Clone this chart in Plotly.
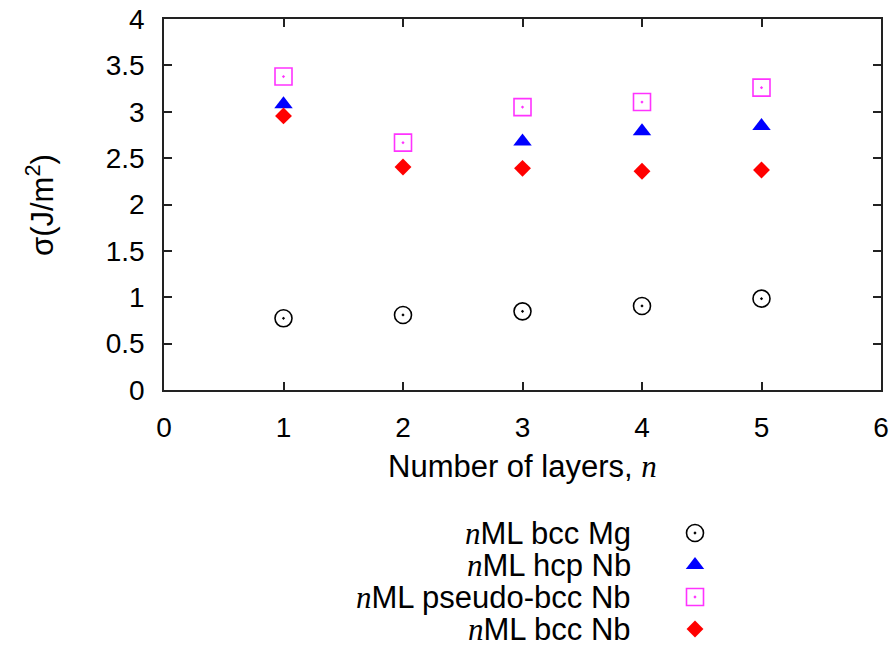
import plotly.graph_objects as go

# ---- data ----
layers = [1, 2, 3, 4, 5]
bcc_mg = [0.773, 0.809, 0.848, 0.906, 0.985]
hcp_nb = [3.08, None, 2.68, 2.79, 2.846]
pseudo_bcc_nb = [3.38, 2.667, 3.05, 3.105, 3.26]
bcc_nb = [2.955, 2.405, 2.39, 2.358, 2.372]

x_ticks = [0, 1, 2, 3, 4, 5, 6]
y_ticks = [0, 0.5, 1, 1.5, 2, 2.5, 3, 3.5, 4]
y_tick_text = ["0", "0.5", "1", "1.5", "2", "2.5", "3", "3.5", "4"]

NI = "<span style='font-family:Liberation Serif'><i>n</i></span>"
series_names = [NI + "ML bcc Mg", NI + "ML hcp Nb", NI + "ML pseudo-bcc Nb", NI + "ML bcc Nb"]

FONT = "Liberation Sans"
FS_TICK = 28
FS_TEXT = 31

styles = [
    dict(symbol="circle-open-dot", size=17, color="black", line=dict(width=1.6, color="black")),
    dict(symbol="triangle-up", size=16, color="#0000ff", line=dict(width=0)),
    dict(symbol="square-open-dot", size=17, color="#ff33ff", line=dict(width=1.6, color="#ff33ff")),
    dict(symbol="diamond", size=13, color="#ff0000", line=dict(width=0)),
]
series = [bcc_mg, hcp_nb, pseudo_bcc_nb, bcc_nb]

fig = go.Figure()
for vals, st, name in zip(series, styles, series_names):
    fig.add_trace(go.Scatter(x=layers, y=vals, mode="markers", marker=st, name=name,
                             showlegend=False, cliponaxis=False))

# manual legend (text left of symbol, as in gnuplot)
W, H = 896, 648
ML, MR, MT, MB = 164, 15, 19, 0
pw, ph = W - ML - MR, H - MT - MB
def px2x(p):
    return (p - ML) / pw
def py2y(p):
    return (H - MB - p) / ph

leg_row0, leg_step = 533, 32
for i, (st, name) in enumerate(zip(styles, series_names)):
    yy = py2y(leg_row0 + i * leg_step)
    fig.add_trace(go.Scatter(x=[px2x(695)], y=[yy], mode="markers", marker=st,
                             xaxis="x2", yaxis="y2", showlegend=False, cliponaxis=False,
                             hoverinfo="skip"))
    fig.add_annotation(x=px2x(633), y=yy, xref="paper", yref="paper", text=name,
                       showarrow=False, xanchor="right", yanchor="middle",
                       font=dict(family=FONT, size=FS_TEXT, color="black"))

axis_common = dict(showgrid=False, zeroline=False, showline=True, linecolor="#222",
                   linewidth=1.5, ticks="inside", ticklen=8, tickwidth=1.5, tickcolor="#222",
                   mirror="ticks", tickfont=dict(family=FONT, size=FS_TICK, color="black"),
                   automargin=False)

y_bottom = py2y(390)
fig.update_layout(
    width=W, height=H,
    margin=dict(l=ML, r=MR, t=MT, b=MB, pad=0),
    plot_bgcolor="rgba(0,0,0,0)", paper_bgcolor="white",
    showlegend=False,
    xaxis=dict(range=[0, 6], tickvals=x_ticks, ticktext=[str(v) for v in x_ticks],
               ticklabelstandoff=12, **axis_common),
    yaxis=dict(range=[0, 4], tickvals=y_ticks, ticktext=y_tick_text, domain=[y_bottom, 1],
               ticklabelstandoff=12, **axis_common),
    xaxis2=dict(range=[0, 1], domain=[0, 1], visible=False, anchor="y2"),
    yaxis2=dict(range=[0, 1], domain=[0, 1], visible=False, anchor="x2"),
)

fig.add_annotation(x=0.5, y=py2y(467), xref="paper", yref="paper",
                   text="Number of layers, " + NI, showarrow=False,
                   xanchor="center", yanchor="middle",
                   font=dict(family=FONT, size=FS_TEXT, color="black"))
fig.add_annotation(x=px2x(40), y=py2y(205), xref="paper", yref="paper",
                   text="σ(J/m<sup>2</sup>)", showarrow=False, textangle=-90,
                   xanchor="center", yanchor="middle",
                   font=dict(family=FONT, size=FS_TEXT, color="black"))

fig.write_html("out.html")
